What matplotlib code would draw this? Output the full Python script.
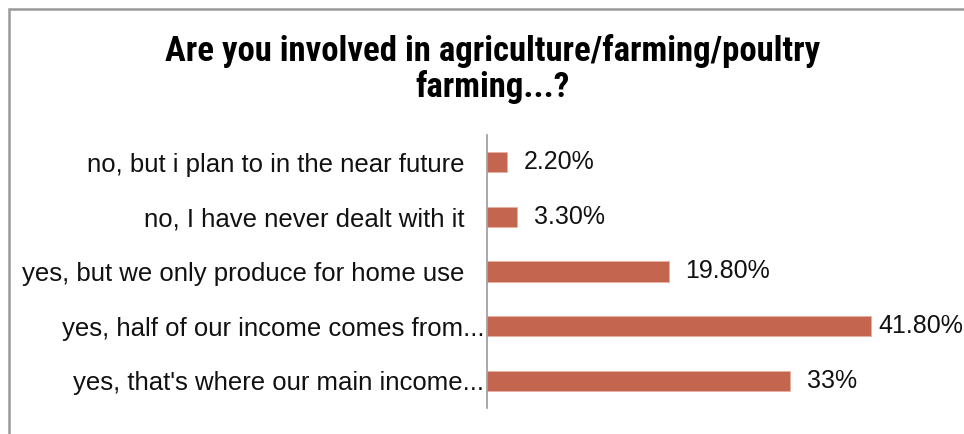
import matplotlib.pyplot as plt
from matplotlib.patches import Rectangle

answers = [
    "yes, that's where our main income...",
    "yes, half of our income comes from...",
    "yes, but we only produce for home use",
    "no, I have never dealt with it",
    "no, but i plan to in the near future",
]
shares = [33.0, 41.8, 19.8, 3.3, 2.2]
share_text = ["33%", "41.80%", "19.80%", "3.30%", "2.20%"]

bar_color = "#C4654F"
label_font = "Liberation Sans"

fig = plt.figure(figsize=(9.64, 4.34), dpi=100)
ax = fig.add_axes([0.505, 0.060, 0.477, 0.629])

y = range(len(answers))
ax.barh(y, shares, height=0.37, color=bar_color, edgecolor="#E8B0A0", linewidth=0.6)

ax.set_xlim(0, 50)
ax.set_ylim(-0.5, len(answers) - 0.5)
ax.set_yticks(list(y))
ax.set_yticklabels(answers, fontsize=18.5, family=label_font, color="#111111")
ax.tick_params(axis="y", length=0, pad=16)
ax.set_xticks([])

# long labels were cut with an ellipsis, they sit closer to the axis
for i, lab in enumerate(answers):
    if lab.endswith("..."):
        ax.yaxis.get_major_ticks()[i].set_pad(2)

for side in ["top", "right", "bottom"]:
    ax.spines[side].set_visible(False)
ax.spines["left"].set_color("#9a9a9a")
ax.spines["left"].set_linewidth(1.2)

for i, (v, t) in enumerate(zip(shares, share_text)):
    off = 5 if v == max(shares) else 12
    ax.annotate(t, (v, i), xytext=(off, 0), textcoords="offset points",
                va="center", ha="left", fontsize=18, family=label_font,
                color="#111111")

fig.text(0.511, 0.841, "Are you involved in agriculture/farming/poultry\nfarming...?",
         ha="center", va="center", fontsize=25, fontweight="bold",
         family="Roboto Condensed", linespacing=1.1)

# chart frame (only top and left edges fall inside the image)
fig.patches.append(Rectangle((0.0095, -0.1), 1.2, 1.079, transform=fig.transFigure,
                             fill=False, edgecolor="#999999", linewidth=1.8))

fig.savefig("out.png", dpi=100)
